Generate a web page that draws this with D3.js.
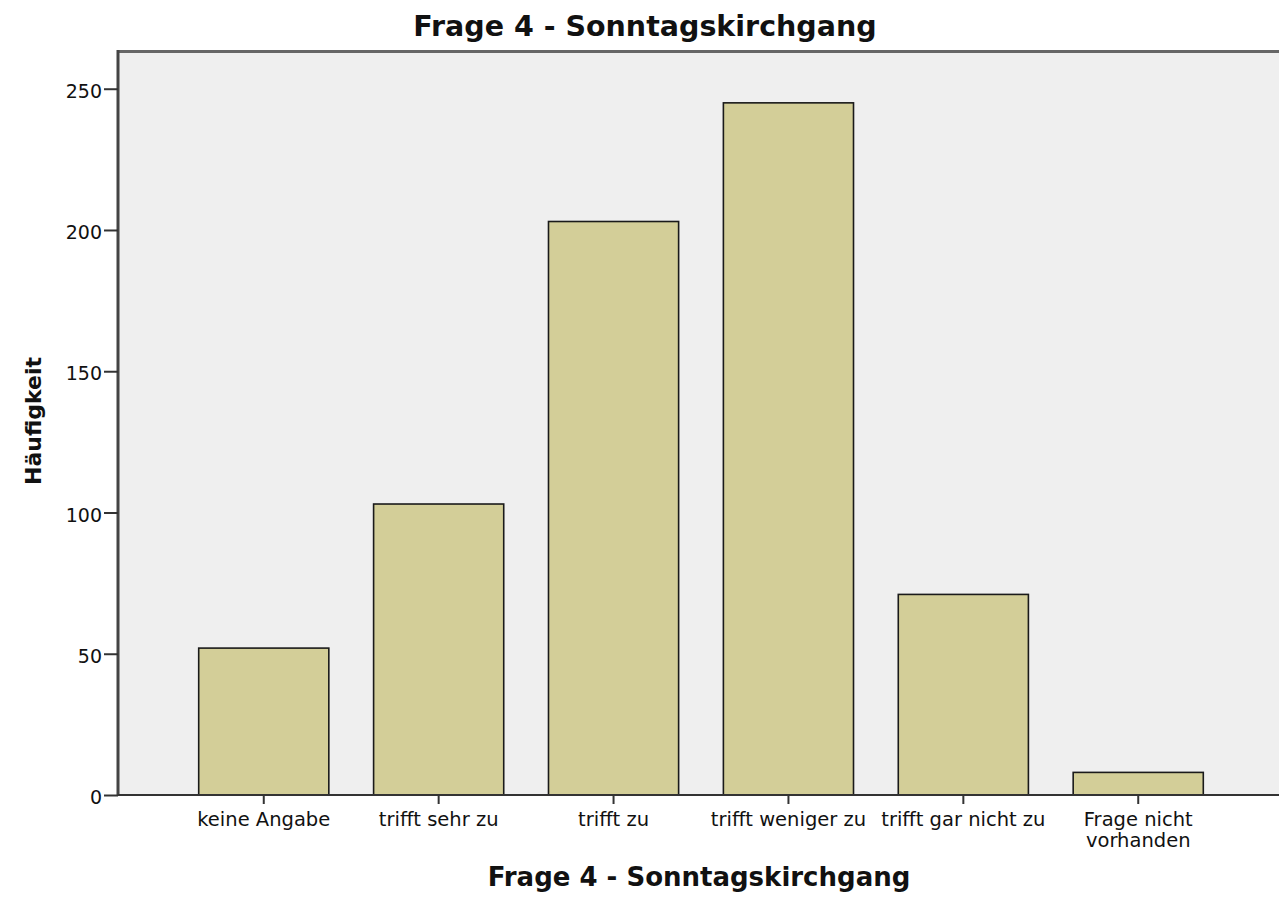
<!DOCTYPE html>
<html>
<head>
<meta charset="utf-8">
<script src="https://cdn.jsdelivr.net/npm/d3@7"></script>
<style>
  body { margin: 0; background: #fff; }
  text { font-family: "DejaVu Sans", sans-serif; fill: #111; }
</style>
</head>
<body>
<div id="chart"></div>
<script>
let categories = ['keine Angabe', 'trifft sehr zu', 'trifft zu', 'trifft weniger zu', 'trifft gar nicht zu', 'Frage nicht\nvorhanden']
let counts = [52, 103, 203, 245, 71, 8]
let yTicks = [0, 50, 100, 150, 200, 250]

let title = 'Frage 4 - Sonntagskirchgang'
let xTitle = 'Frage 4 - Sonntagskirchgang'
let yTitle = 'Häufigkeit'

let width = 1279
let height = 902
let plot = { left: 118, top: 52, right: 1279, bottom: 795 }

let svg = d3
  .select('#chart')
  .append('svg')
  .attr('width', width)
  .attr('height', height)

let x = d3
  .scaleBand()
  .domain(categories)
  .range([120, 1282])
  .paddingInner(0.256)
  .paddingOuter(0.45)

let y = d3
  .scaleLinear()
  .domain([0, 263])
  .range([plot.bottom, plot.top])

// plot background
svg
  .append('rect')
  .attr('x', plot.left)
  .attr('y', plot.top)
  .attr('width', plot.right - plot.left)
  .attr('height', plot.bottom - plot.top)
  .attr('fill', '#efefef')

// bars
svg
  .selectAll('.bar')
  .data(counts)
  .enter()
  .append('rect')
  .attr('class', 'bar')
  .attr('x', (d, i) => x(categories[i]))
  .attr('y', d => y(d))
  .attr('width', x.bandwidth())
  .attr('height', d => y(0) - y(d))
  .attr('fill', '#d3ce98')
  .attr('stroke', '#1a1a1a')
  .attr('stroke-width', 1.6)

// top frame line
svg
  .append('line')
  .attr('x1', plot.left)
  .attr('x2', plot.right)
  .attr('y1', plot.top - 0.5)
  .attr('y2', plot.top - 0.5)
  .attr('stroke', '#666')
  .attr('stroke-width', 3)

// y axis
let yAxis = svg
  .append('g')
  .attr('transform', `translate(${plot.left}, 0)`)
  .call(d3.axisLeft(y).tickValues(yTicks).tickSize(14).tickPadding(2))

yAxis.select('.domain')
  .attr('d', `M0,${plot.top - 2}V${plot.bottom}`)
  .attr('stroke', '#444')
  .attr('stroke-width', 3)
yAxis.selectAll('.tick line').attr('stroke', '#333').attr('stroke-width', 2)
yAxis.selectAll('.tick text')
  .attr('font-size', 19)
  .attr('font-family', '"DejaVu Sans", sans-serif')
  .attr('fill', '#111')
  .attr('dy', '0.45em')

// x axis
let xAxis = svg
  .append('g')
  .attr('transform', `translate(0, ${plot.bottom})`)
  .call(d3.axisBottom(x).tickSize(9).tickFormat(''))

xAxis.select('.domain')
  .attr('d', `M${plot.left},0H${plot.right}`)
  .attr('stroke', '#333')
  .attr('stroke-width', 2)
xAxis.selectAll('.tick line').attr('stroke', '#333').attr('stroke-width', 2)

// x tick labels, some on two lines
svg
  .selectAll('.xlabel')
  .data(categories)
  .enter()
  .append('text')
  .attr('class', 'xlabel')
  .attr('text-anchor', 'middle')
  .attr('font-size', 19.5)
  .each(function(d) {
    let lines = d.split('\n')
    d3.select(this)
      .selectAll('tspan')
      .data(lines)
      .enter()
      .append('tspan')
      .attr('x', x(d) + x.bandwidth() / 2)
      .attr('y', (l, i) => 826 + i * 21)
      .text(l => l)
  })

// titles
svg
  .append('text')
  .attr('x', 645)
  .attr('y', 36)
  .attr('text-anchor', 'middle')
  .attr('font-size', 28.5)
  .attr('font-weight', 'bold')
  .text(title)

svg
  .append('text')
  .attr('x', 699)
  .attr('y', 886)
  .attr('text-anchor', 'middle')
  .attr('font-size', 26)
  .attr('font-weight', 'bold')
  .text(xTitle)

svg
  .append('text')
  .attr('transform', 'translate(41, 421) rotate(-90)')
  .attr('text-anchor', 'middle')
  .attr('font-size', 22)
  .attr('font-weight', 'bold')
  .text(yTitle)
</script>
</body>
</html>
